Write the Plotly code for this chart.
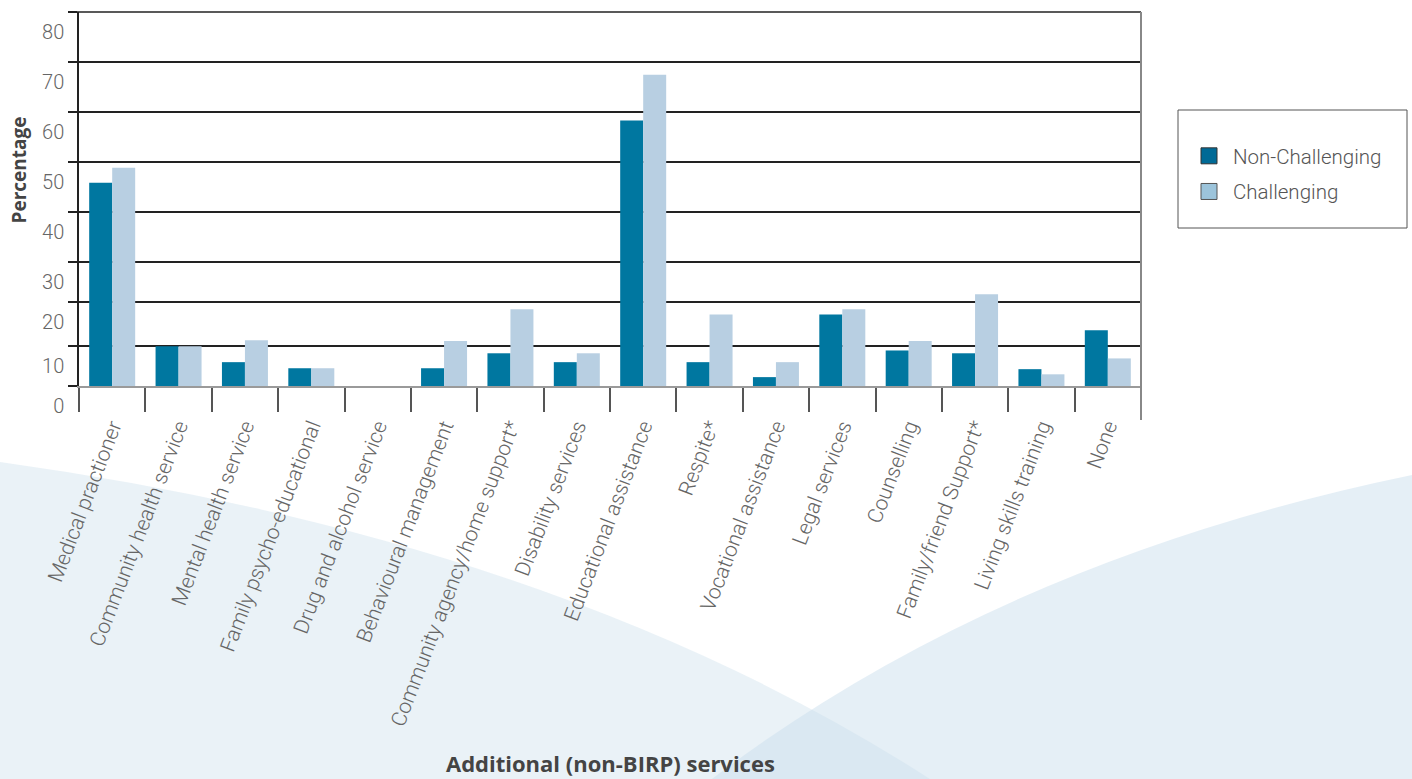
import plotly.graph_objects as go

# ---- data -------------------------------------------------------------
categories = [
    "Medical practioner",
    "Community health service",
    "Mental health service",
    "Family psycho-educational",
    "Drug and alcohol service",
    "Behavioural management",
    "Community agency/home support*",
    "Disability services",
    "Educational assistance",
    "Respite*",
    "Vocational assistance",
    "Legal services",
    "Counselling",
    "Family/friend Support*",
    "Living skills training",
    "None",
]
non_challenging = [43.5, 8.5, 5.1, 3.8, 0, 3.8, 7.0, 5.1, 56.8, 5.1, 1.9, 15.3, 7.6, 7.0, 3.6, 11.9]
challenging = [46.7, 8.5, 9.8, 3.8, 0, 9.6, 16.4, 7.0, 66.6, 15.3, 5.1, 16.4, 9.6, 19.6, 2.5, 5.9]

tick_labels = ["0", "10", "20", "30", "40", "50", "60", "70", "80"]
grid_at = [0, 8.65, 18.06, 26.6, 37.3, 48.0, 58.65, 69.3, 80]

# ---- layout geometry ----------------------------------------------------
W, H = 1412, 779
ML, MR, MT, MB = 79, 271, 12, 393
PW, PH = W - ML - MR, H - MT - MB

C_DARK = "#0077a0"
C_LIGHT = "#b8cfe2"
TXT = "#666666"
FONT = "Roboto"
TITLE_FONT = "Open Sans"


def paper(px, py):
    """Convert page pixel position into paper coordinates."""
    return (px - ML) / PW, (H - MB - py) / PH


def path(points_cmds):
    out = []
    for cmd, pts in points_cmds:
        coords = " ".join(f"{paper(x, y)[0]:.4f},{paper(x, y)[1]:.4f}" for x, y in pts)
        out.append(f"{cmd} {coords}")
    return " ".join(out) + " Z"


fig = go.Figure()

fig.add_trace(go.Bar(x=categories, y=non_challenging, name="Non-Challenging",
                     marker=dict(color=C_DARK, line=dict(width=0)), showlegend=False))
fig.add_trace(go.Bar(x=categories, y=challenging, name="Challenging",
                     marker=dict(color=C_LIGHT, line=dict(width=0)), showlegend=False))

# legend entries with large square swatches
fig.add_trace(go.Scatter(x=[None], y=[None], mode="markers", name="Non-Challenging",
                         legendgroup="a",
                         marker=dict(symbol="square", size=22, color="#006a96",
                                     line=dict(color="#333333", width=1))))
fig.add_trace(go.Scatter(x=[None], y=[None], mode="markers", name="Challenging",
                         legendgroup="b",
                         marker=dict(symbol="square", size=22, color="#9cc4db",
                                     line=dict(color="#555555", width=1))))

shapes = []
# soft background swooshes
shapes.append(dict(type="path", xref="paper", yref="paper", layer="below",
                   path=path([("M", [(0, 462)]), ("Q", [(560, 540), (930, 779)]),
                              ("L", [(0, 779)])]),
                   fillcolor="rgba(200,220,235,0.38)", line=dict(width=0)))
shapes.append(dict(type="path", xref="paper", yref="paper", layer="below",
                   path=path([("M", [(1412, 475)]), ("Q", [(1000, 560), (712, 779)]),
                              ("L", [(1412, 779)])]),
                   fillcolor="rgba(200,220,235,0.47)", line=dict(width=0)))
# top frame edge
tx0, ty0 = paper(70, 12)
shapes.append(dict(type="line", xref="paper", yref="paper", x0=tx0, x1=1, y0=ty0, y1=ty0,
                   line=dict(color="#222222", width=1.5)))
# right frame edge
_, y0 = paper(1141, 12)
_, y1 = paper(1141, 420)
shapes.append(dict(type="line", xref="paper", yref="paper", x0=1, x1=1, y0=y0, y1=y1,
                   line=dict(color="#888888", width=2)))
# legend frame
lx0, ly0 = paper(1178, 110)
lx1, ly1 = paper(1407, 228)
shapes.append(dict(type="rect", xref="paper", yref="paper", x0=lx0, x1=lx1, y0=ly1, y1=ly0,
                   line=dict(color="#555555", width=1), fillcolor="rgba(255,255,255,0)"))

ax_y, ay_y = paper(18.5, 170)
tx, ty = paper(610, 763)
legx, legy = paper(1185, 136)

fig.update_layout(
    width=W, height=H,
    margin=dict(l=ML, r=MR, t=MT, b=MB, pad=0),
    paper_bgcolor="white",
    plot_bgcolor="rgba(0,0,0,0)",
    barmode="group",
    bargap=0.307,
    bargroupgap=0,
    shapes=shapes,
    showlegend=True,
    legend=dict(x=legx, y=legy, xanchor="left", yanchor="top",
                bgcolor="rgba(0,0,0,0)", borderwidth=0, tracegroupgap=6,
                itemwidth=38,
                font=dict(family=FONT, size=20.5, color="#555555", weight=300)),
    xaxis=dict(
        type="category",
        showgrid=False,
        showline=True, linecolor="#9a9a9a", linewidth=2,
        ticks="outside", tickson="boundaries", ticklen=24,
        tickcolor="#555555", tickwidth=1.5,
        tickangle=-69,
        ticklabelstandoff=18,
        tickfont=dict(family=FONT, size=21, color=TXT, weight=300),
        automargin=False,
    ),
    yaxis=dict(
        range=[0, 80],
        tickmode="array", tickvals=grid_at, ticktext=tick_labels,
        showgrid=True, gridcolor="#222222", gridwidth=1.5,
        zeroline=False,
        showline=True, linecolor="#222222", linewidth=1.5,
        ticks="outside", ticklen=9, tickcolor="#222222", tickwidth=1.5,
        ticklabelshift=20,
        tickfont=dict(family=FONT, size=20, color=TXT, weight=300),
        automargin=False,
    ),
    annotations=[
        dict(text="<b>Percentage</b>", xref="paper", yref="paper", x=ax_y, y=ay_y,
             xanchor="center", yanchor="middle", textangle=-90, showarrow=False,
             font=dict(family=TITLE_FONT, size=19, color="#444444")),
        dict(text="<b>Additional (non-BIRP) services</b>", xref="paper", yref="paper",
             x=tx, y=ty, xanchor="center", yanchor="middle", showarrow=False,
             font=dict(family=TITLE_FONT, size=22, color="#444444")),
    ],
)

fig.write_html("out.html")
